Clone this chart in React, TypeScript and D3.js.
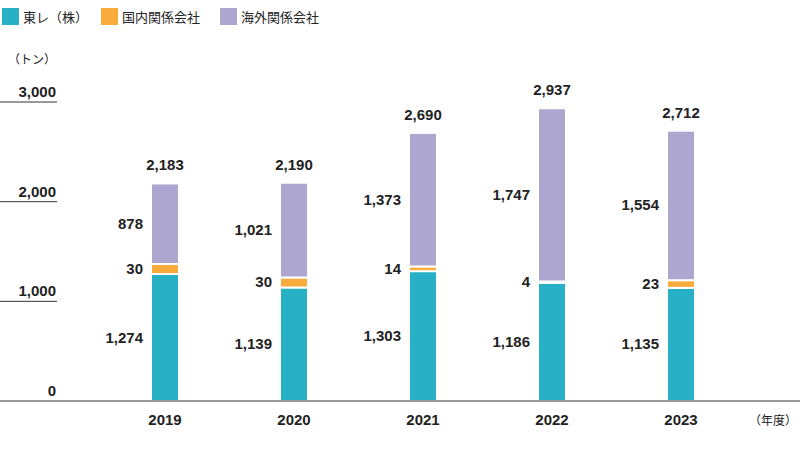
import React from "react";
import * as d3 from "d3";

const years = ["2019", "2020", "2021", "2022", "2023"];
const toray = [1274, 1139, 1303, 1186, 1135];
const domestic = [30, 30, 14, 4, 23];
const overseas = [878, 1021, 1373, 1747, 1554];
const totals = [2183, 2190, 2690, 2937, 2712];
const yTicks = [0, 1000, 2000, 3000];
const seriesNames = ["東レ（株）", "国内関係会社", "海外関係会社"];
const colors = ["#27b0c6", "#f9ab3b", "#ada6d0"];

const W = 800;
const H = 463;
const numFont = "'Liberation Sans', Arial, Helvetica, sans-serif";
const jpFont = "'Noto Sans CJK JP', 'Noto Sans', sans-serif";
const textColor = "#222";

export default function App() {
  const x = d3.scaleBand().domain(years).range([151, 695]).paddingInner(0.783).paddingOuter(0);
  const y = d3.scaleLinear().domain([0, 3000]).range([401, 102]);
  // the small domestic segment is drawn enlarged in the original chart
  const hDom = d3.scaleLinear().domain([0, 30]).range([0, 10]);
  const fmt = d3.format(",");

  return (
    <svg width={W} height={H} style={{ position: "absolute", left: 0, top: 0, background: "#fff" }}>
      {seriesNames.map((n, i) => {
        const lx = [2, 101, 220][i];
        return (
          <g key={n}>
            <rect x={lx} y={8} width={17} height={17} fill={colors[i]} />
            <text x={lx + 21} y={21.5} fontFamily={jpFont} fontSize={13} fill={textColor}>{n}</text>
          </g>
        );
      })}
      <text x={8} y={64} fontFamily={jpFont} fontSize={12} fill={textColor}>（トン）</text>

      {yTicks.map((t) => (
        <g key={t}>
          <text x={56} y={y(t) - 5} textAnchor="end" fontFamily={numFont} fontWeight="bold" fontSize={15} fill={textColor}>{fmt(t)}</text>
          {t > 0 && <line x1={0} x2={57} y1={y(t)} y2={y(t)} stroke="#333" strokeWidth={1} />}
        </g>
      ))}

      {years.map((yr, i) => {
        const bx = x(yr)!;
        const bw = x.bandwidth();
        const tTop = y(toray[i]);
        const tBot = y(0);
        const dBot = tTop;
        const dTop = tTop - hDom(domestic[i]);
        const oBot = dTop;
        const oTop = y(totals[i]);
        const segs = [
          { top: tTop, bot: tBot, v: toray[i] },
          { top: dTop, bot: dBot, v: domestic[i] },
          { top: oTop, bot: oBot, v: overseas[i] },
        ];
        return (
          <g key={yr}>
            {segs.map((s, k) => (
              <g key={k}>
                <rect x={bx} y={s.top} width={bw} height={Math.max(0, s.bot - s.top)} fill={colors[k]} stroke="#fff" strokeWidth={2} />
                <text x={bx - 8} y={(s.top + s.bot) / 2 + 5} textAnchor="end" fontFamily={numFont} fontWeight="bold" fontSize={15} fill={textColor}>{fmt(s.v)}</text>
              </g>
            ))}
            <text x={bx + bw / 2} y={oTop - 13} textAnchor="middle" fontFamily={numFont} fontWeight="bold" fontSize={15} fill={textColor}>{fmt(totals[i])}</text>
            <text x={bx + bw / 2} y={425} textAnchor="middle" fontFamily={numFont} fontWeight="bold" fontSize={15} fill={textColor}>{yr}</text>
          </g>
        );
      })}

      <line x1={0} x2={W} y1={401} y2={401} stroke="#333" strokeWidth={1.2} />
      <text x={749} y={425} fontFamily={jpFont} fontSize={12} fill={textColor}>（年度）</text>
    </svg>
  );
}
